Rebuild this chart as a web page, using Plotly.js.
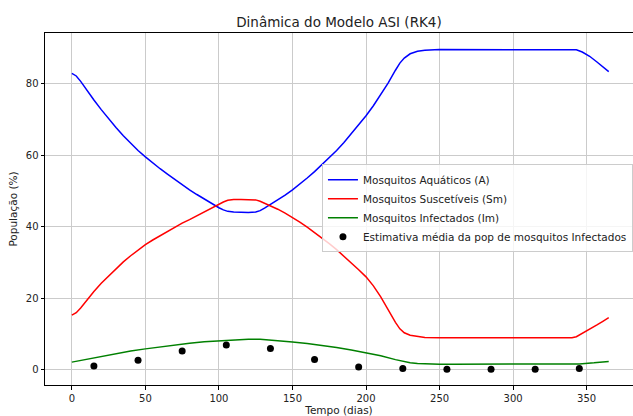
<!DOCTYPE html>
<html>
<head>
<meta charset="utf-8">
<script src="https://cdn.plot.ly/plotly-3.0.1.min.js"></script>
<style>html,body{margin:0;padding:0;background:#fff;}#chart{width:633px;height:416px;}</style>
</head>
<body>
<div id="chart"></div>
<script>
// Time knots (days) for aquatic and susceptible curves
const days = [0,3,6,10,15,20,25,30,35,40,45,50,55,60,65,70,75,80,85,90,95,100,103,106,110,115,120,125,128,131,135,140,145,150,155,160,165,170,175,180,185,190,195,200,205,210,215,220,223,226,230,235,240,250,260,270,280,290,300,310,320,330,340,343,347,352,357,361,365];
const aquaticA = [82.8,82.1,80.6,78.2,75.4,72.7,70.1,67.7,65.4,63.3,61.3,59.5,57.8,56.2,54.7,53.2,51.7,50.3,49.0,47.7,46.5,45.3,44.7,44.3,44.1,44.0,44.0,44.1,44.5,45.2,46.2,47.5,48.8,50.3,51.9,53.6,55.4,57.3,59.2,61.3,63.5,65.9,68.4,71.0,73.8,76.8,80.1,83.7,85.7,87.1,88.3,89.0,89.3,89.5,89.5,89.5,89.5,89.5,89.5,89.5,89.5,89.5,89.5,89.4,88.8,87.6,86.0,84.7,83.3];
const susceptibleSm = [15.3,16.0,17.3,19.4,21.9,24.2,26.3,28.3,30.2,31.9,33.5,35.0,36.3,37.5,38.7,39.9,41.0,42.0,43.1,44.1,45.2,46.2,46.9,47.4,47.6,47.6,47.6,47.5,47.1,46.6,45.9,44.9,43.8,42.6,41.3,39.9,38.4,36.9,35.3,33.6,31.8,29.9,28.0,26.0,23.5,20.4,16.8,13.3,11.5,10.4,9.7,9.3,9.1,9.0,9.0,9.0,9.0,9.0,9.0,9.0,9.0,9.0,9.0,9.3,10.2,11.4,12.6,13.6,14.6];
// Infected curve
const daysIm = [0,10,20,30,40,50,60,70,80,90,100,110,120,128,135,140,150,160,170,180,190,200,210,220,225,230,235,240,250,260,280,300,320,340,345,355,365];
const infectedIm = [2.2,3.0,3.8,4.6,5.3,5.9,6.5,7.0,7.5,7.9,8.2,8.5,8.6,8.6,8.4,8.2,7.8,7.4,6.9,6.3,5.6,4.9,4.0,2.9,2.4,2.0,1.8,1.7,1.6,1.6,1.6,1.6,1.6,1.6,1.7,2.0,2.4];
// Estimated mean infected mosquito population
const obsDays = [15,45,75,105,135,165,195,225,255,285,315,345];
const obsIm = [1.1,2.7,5.3,7.0,6.0,2.9,0.85,0.4,0.2,0.2,0.2,0.45];

const xTicks = [0,50,100,150,200,250,300,350];
const yTicks = [0,20,40,60,80];

const font = "DejaVu Sans, sans-serif";

const traces = [
  {x: days, y: aquaticA, mode: 'lines', name: 'Mosquitos Aquáticos (A)', line: {color: '#0000ff', width: 1.5}},
  {x: days, y: susceptibleSm, mode: 'lines', name: 'Mosquitos Suscetíveis (Sm)', line: {color: '#ff0000', width: 1.5}},
  {x: daysIm, y: infectedIm, mode: 'lines', name: 'Mosquitos Infectados (Im)', line: {color: '#008000', width: 1.5}},
  {x: obsDays, y: obsIm, mode: 'markers', name: 'Estimativa média da pop de mosquitos Infectados', marker: {color: '#000000', size: 7}}
];

const layout = {
  width: 633, height: 416,
  margin: {l: 45, r: 0, t: 33, b: 31},
  paper_bgcolor: '#ffffff', plot_bgcolor: '#ffffff',
  font: {family: font, size: 10, color: '#222222'},
  title: {text: 'Dinâmica do Modelo ASI (RK4)', font: {family: font, size: 13.5, color: '#222222'}, x: 0.5355, xanchor: 'center', y: 0.946, yanchor: 'middle'},
  xaxis: {
    range: [-18.25, 381.5], tickvals: xTicks, ticktext: xTicks.map(String),
    showgrid: true, gridcolor: '#cbcbcb', gridwidth: 1, zeroline: false,
    showline: true, linecolor: '#000', linewidth: 1, mirror: true,
    ticks: 'outside', ticklen: 3.5, tickcolor: '#000', tickfont: {size: 10},
    title: {text: 'Tempo (dias)', font: {size: 10.5}, standoff: 15}, automargin: false
  },
  yaxis: {
    range: [-4.19, 94.1], tickvals: yTicks, ticktext: yTicks.map(String),
    showgrid: true, gridcolor: '#cbcbcb', gridwidth: 1, zeroline: false,
    showline: true, linecolor: '#000', linewidth: 1, mirror: true,
    ticks: 'outside', ticklen: 3.5, tickcolor: '#000', tickfont: {size: 10},
    title: {text: 'População (%)', font: {size: 10.5}, standoff: 6}, automargin: false
  },
  showlegend: true,
  legend: {
    x: 0.471, y: 0.627, xanchor: 'left', yanchor: 'top',
    bgcolor: 'rgba(255,255,255,0.8)', bordercolor: '#cccccc', borderwidth: 1,
    font: {size: 10.5, color: '#222222'}, tracegroupgap: 0
  }
};

Plotly.newPlot('chart', traces, layout, {displayModeBar: false, staticPlot: true});
</script>
</body>
</html>
